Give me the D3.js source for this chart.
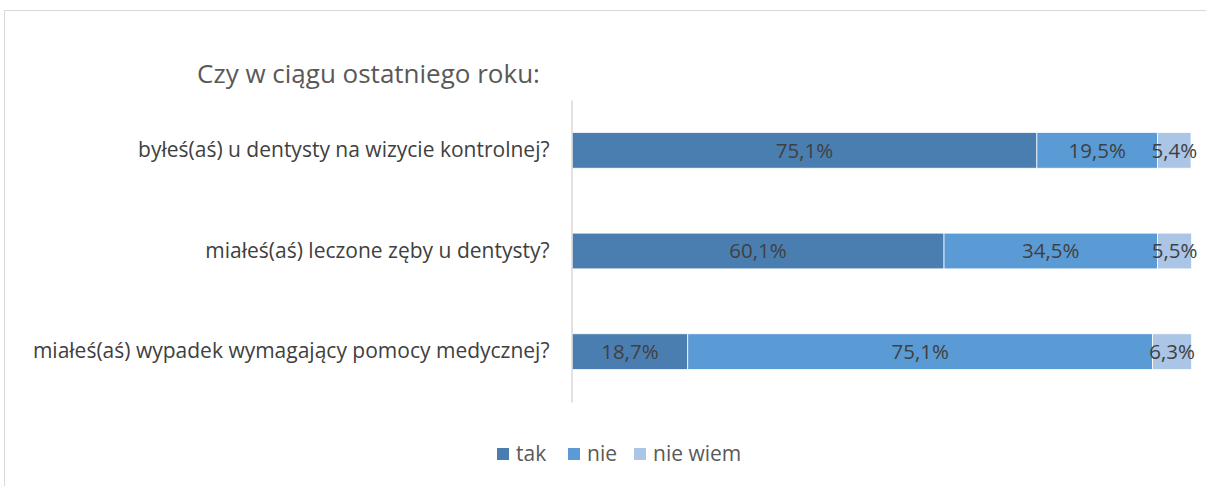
<!DOCTYPE html>
<html>
<head>
<meta charset="utf-8">
<script src="https://cdn.jsdelivr.net/npm/d3@7"></script>
<style>
  html, body { margin: 0; padding: 0; background: #ffffff; }
  svg { display: block; }
  text { font-family: "Open Sans", "Noto Sans", sans-serif; }
</style>
</head>
<body>
<svg id="chart" width="1206" height="486"></svg>
<script>
// Survey questions (top to bottom)
const questions = [
  "byłeś(aś) u dentysty na wizycie kontrolnej?",
  "miałeś(aś) leczone zęby u dentysty?",
  "miałeś(aś) wypadek wymagający pomocy medycznej?"
];
// Answer shares in percent, one array per answer
const tak = [75.1, 60.1, 18.7];
const nie = [19.5, 34.5, 75.1];
const nieWiem = [5.4, 5.5, 6.3];
const answers = ["tak", "nie", "nie wiem"];
const colors = ["#4a7eb1", "#5b9bd5", "#abc5e7"];
const title = "Czy w ciągu ostatniego roku:";

const svg = d3.select("#chart");
const W = 1206, H = 486;

// Outer chart frame (runs past the right and bottom edges)
svg.append("rect")
  .attr("x", 4.5).attr("y", 10.5)
  .attr("width", W + 20).attr("height", H + 20)
  .attr("fill", "#ffffff")
  .attr("stroke", "#d9d9d9").attr("stroke-width", 1);

const plot = { left: 572, right: 1191, top: 100, bottom: 402 };

const rows = questions.map((q, i) => ({ q, vals: [tak[i], nie[i], nieWiem[i]] }));

const x = d3.scaleLinear().domain([0, 100]).range([plot.left, plot.right]);
const y = d3.scaleBand().domain(questions).range([plot.top, plot.bottom])
  .paddingInner(0.645).paddingOuter(0.3225);

// Stack the three answers
const table = rows.map(r => ({ q: r.q, tak: r.vals[0], nie: r.vals[1], "nie wiem": r.vals[2] }));
const series = d3.stack().keys(answers)(table);

const fmt = v => d3.format(".1f")(v).replace(".", ",") + "%";

series.forEach((s, si) => {
  const g = svg.append("g");
  g.selectAll("rect").data(s).enter().append("rect")
    .attr("x", d => x(d[0]))
    .attr("y", d => y(d.data.q))
    .attr("width", d => x(d[1]) - x(d[0]))
    .attr("height", y.bandwidth())
    .attr("fill", colors[si])
    .attr("stroke", "#ffffff").attr("stroke-width", 0.75);
  g.selectAll("text").data(s).enter().append("text")
    .attr("x", d => (x(d[0]) + x(d[1])) / 2)
    .attr("y", d => y(d.data.q) + y.bandwidth() / 2)
    .attr("dy", "0.36em")
    .attr("text-anchor", "middle")
    .attr("font-size", 20.5)
    .attr("fill", "#404040")
    .text(d => fmt(d[1] - d[0]));
});

// Category axis
const yAxis = d3.axisLeft(y).tickSize(0).tickPadding(22);
const ag = svg.append("g").attr("transform", `translate(${plot.left - 0.5},0)`).call(yAxis);
ag.select(".domain").attr("stroke", "#d9d9d9").attr("stroke-width", 1.5);
ag.selectAll("text").attr("font-size", 21).attr("fill", "#404040")
  .style("font-family", "'Open Sans', 'Noto Sans', sans-serif");

// Title
svg.append("text")
  .attr("x", 368.5).attr("y", 83)
  .attr("text-anchor", "middle")
  .attr("font-size", 26)
  .attr("fill", "#595959")
  .text(title);

// Legend
const legendItems = [
  { label: "tak", x: 497 },
  { label: "nie", x: 568 },
  { label: "nie wiem", x: 634 }
];
const lg = svg.append("g");
legendItems.forEach((it, i) => {
  lg.append("rect").attr("x", it.x).attr("y", 448).attr("width", 12).attr("height", 12)
    .attr("fill", colors[i]);
  lg.append("text").attr("x", it.x + 19).attr("y", 461)
    .attr("font-size", 21).attr("fill", "#595959").text(answers[i]);
});
</script>
</body>
</html>
